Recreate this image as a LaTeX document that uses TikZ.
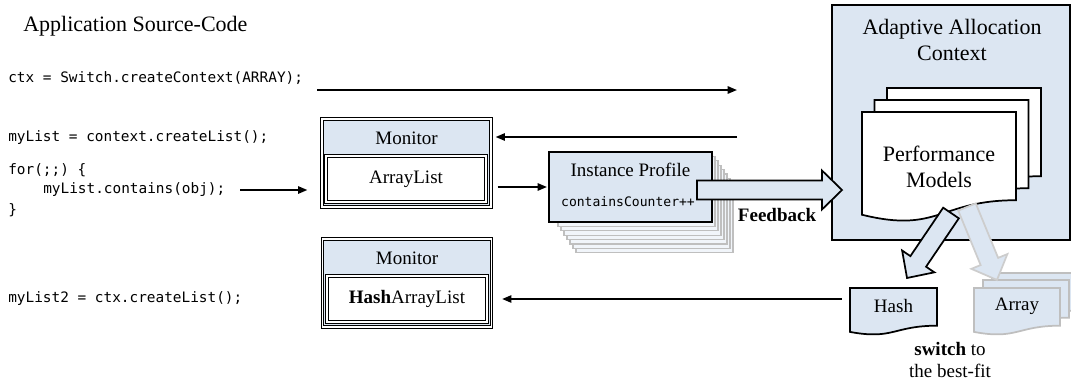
\documentclass[tikz,border=0pt]{standalone}
\usepackage{fontspec}
\setmainfont{Liberation Serif}
\newfontfamily\codefont{DejaVu Sans Mono}
\usetikzlibrary{arrows.meta, calc}
\definecolor{paleblue}{RGB}{220,230,242}
\definecolor{shadowgray}{RGB}{191,191,191}
\definecolor{ghostgray}{RGB}{205,205,205}

\tikzset{
  pics/docpage/.style 2 args={code={
    \path[pic actions] (0,0) -- (#1,0) -- (#1,0.802*#2)
      .. controls (0.5*#1,0.802*#2) and (0.5*#1,1.107*#2) .. (0,0.934*#2) -- cycle;
  }},
  fatarr/.style={fill=paleblue, draw=black, line width=1.3pt, line join=miter},
}

% wide block arrow from #2 to the tip #3
\newcommand{\fatarrow}[3][]{%
  \draw[fatarr, #1] let \p1=($(#3)-(#2)$), \n1={atan2(\y1,\x1)}, \n2={veclen(\x1,\y1)} in
    [shift={(#2)}, rotate=\n1] (0pt,-7.1pt) -- (\n2-15pt,-7.1pt) -- (\n2-15pt,-14.6pt)
    -- (\n2,0pt) -- (\n2-15pt,14.6pt) -- (\n2-15pt,7.1pt) -- (0pt,7.1pt) -- cycle;}

\begin{document}
\begin{tikzpicture}[x=0.75pt, y=-0.75pt,
    big/.style={inner sep=0pt, font=\fontsize{16.5pt}{19.5pt}\selectfont},
    mid/.style={inner sep=0pt, font=\fontsize{14.25pt}{17pt}\selectfont},
    code/.style={inner sep=0pt, anchor=west, font=\codefont\fontsize{10.8pt}{13pt}\selectfont},
    arr/.style={-{Triangle[length=7pt,width=5.5pt]}, line width=1.3pt},
    monbox/.style={draw, double=white, double distance=0.8pt, line width=0.9pt, fill=paleblue,
                   minimum width=126.75pt, minimum height=66pt},
    listbox/.style={draw, double=white, double distance=0.8pt, line width=0.9pt, fill=white,
                    minimum width=120pt, minimum height=34.5pt, font=\fontsize{14.25pt}{17pt}\selectfont},
    profbox/.style={draw, line width=1.5pt, fill=paleblue, minimum width=122.25pt, minimum height=52.5pt},
    shadowbox/.style={draw=shadowgray, line width=0.9pt, fill=paleblue!40},
    ctxbox/.style={draw, line width=1.3pt, fill=paleblue, minimum width=178.5pt, minimum height=176.25pt},
    whitedoc/.style={draw, fill=white, line width=1.3pt},
    bluedoc/.style={draw, fill=paleblue, line width=1.3pt},
    greydoc/.style={draw=shadowgray, fill=paleblue, line width=1.3pt}
  ]
  \useasboundingbox (0,0) rectangle (1071,383);

  % source code column
  \node[big, anchor=base west] (title) at (23,31) {Application Source-Code};
  \node[code] (ctxline) at (8,78) {ctx = Switch.createContext(ARRAY);};
  \node[code] (listline) at (8,138) {myList = context.createList();};
  \node[code] (forline) at (8,170) {for(;;) \{};
  \node[code] (callline) at (43,190) {myList.contains(obj);};
  \node[code] (closeline) at (8,210) {\}};
  \node[code] (list2line) at (8,299) {myList2 = ctx.createList();};

  % monitors
  \node[monbox] (mon1) at (406.5,163) {};
  \node[mid] (mon1t) at (406.5,138) {Monitor};
  \node[listbox] (arr1) at (406,179) {ArrayList};

  \node[monbox] (mon2) at (407,283) {};
  \node[mid] (mon2t) at (407,258) {Monitor};
  \node[listbox] (harr) at (407,299) {\textbf{Hash}ArrayList};

  % instance profile with its stack of copies
  \foreach \k in {7,6,...,1}
    \draw[shadowbox] (555+3*\k,152+4.4*\k) rectangle (712+3*\k,222+4.4*\k);
  \node[profbox] (prof) at (630.5,187) {};
  \node[mid] (proft) at (630.5,170) {Instance Profile};
  \node[inner sep=0pt, font=\codefont\fontsize{9.8pt}{12pt}\selectfont] (profc) at (628,202) {containsCounter++};

  % adaptive allocation context
  \node[ctxbox] (ctxbox) at (951,122.5) {};
  \node[big, align=center] (ctxtitle) at (952,40) {Adaptive Allocation\\Context};
  \pic[whitedoc] at (887,88) {docpage={154}{110}};
  \pic[whitedoc] at (874.5,100) {docpage={154}{110}};
  \pic[whitedoc] at (862,112) {docpage={154}{110}};
  \node[big, align=center] (perf) at (939,167) {Performance\\Models};

  % candidate implementations
  \pic[greydoc] at (992,273) {docpage={86}{47}};
  \pic[greydoc] at (983,280) {docpage={86}{47}};
  \pic[greydoc] at (974,288) {docpage={86}{47}};
  \node[mid] (array) at (1017,306) {Array};
  \pic[bluedoc] at (850,288) {docpage={87}{47}};
  \node[mid, minimum width=65.25pt] (hash) at (893.5,306) {Hash};

  \node[mid, align=center] (switch) at (950,360) {\textbf{switch} to\\the best-fit};
  \node[mid, font=\fontsize{14.25pt}{17pt}\selectfont\bfseries] (feedback) at (777,215) {Feedback};

  % plain arrows
  \coordinate (ctxa) at (317,90);
  \coordinate (ctxb) at (737,90);
  \coordinate (backin) at (737,137);
  \draw[arr] (ctxa) -- (ctxb);
  \draw[arr, shorten >=3pt] (backin) -- (backin -| mon1.east);
  \draw[arr, shorten <=11pt, shorten >=10.5pt] (callline.east) -- (callline.east -| mon1.west);
  \draw[arr, shorten <=4.5pt, shorten >=0.8pt] (mon1.east |- prof.west) -- (prof.west);
  \draw[arr, shorten <=6pt, shorten >=7.5pt] (hash.west |- harr.east) -- (mon2.east |- harr.east);

  % block arrows
  \coordinate (fbstart) at (697,190);
  \coordinate (fbtip) at (842,190);
  \coordinate (hstart) at (951,213);
  \coordinate (htip) at (907,278);
  \coordinate (astart) at (967,207);
  \coordinate (atip) at (997,280);
  \fatarrow{fbstart}{fbtip}
  \fatarrow[draw=ghostgray]{astart}{atip}
  \fatarrow{hstart}{htip}
\end{tikzpicture}
\end{document}
